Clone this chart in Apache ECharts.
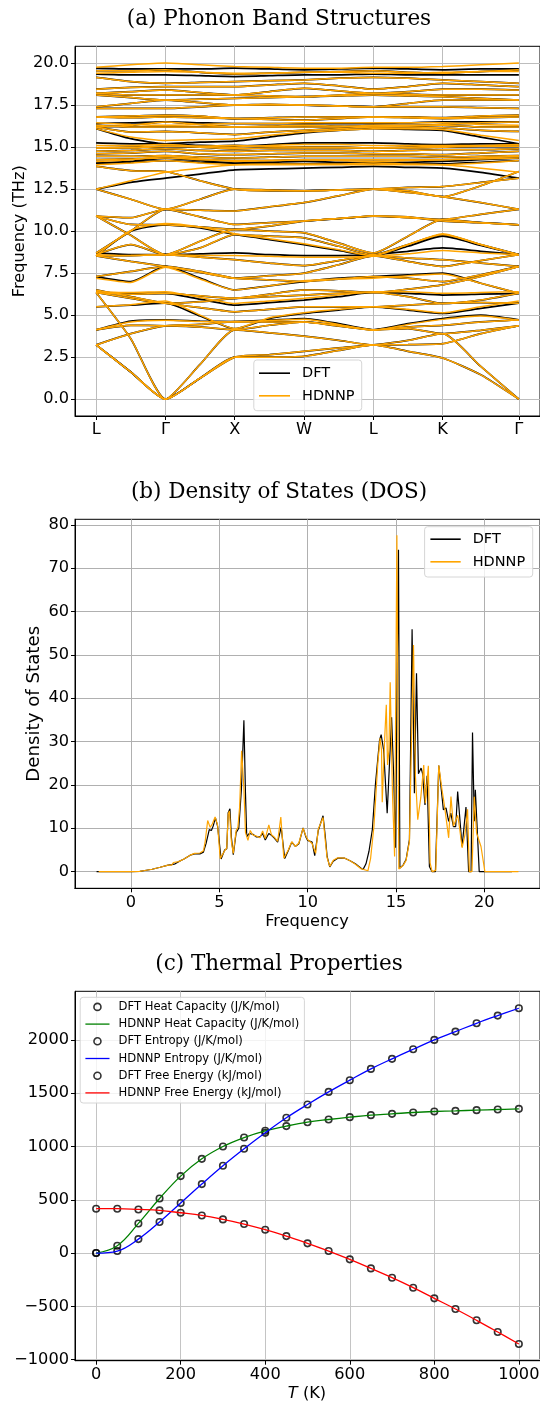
<!DOCTYPE html>
<html><head><meta charset="utf-8">
<script src="https://cdn.jsdelivr.net/npm/echarts@6/dist/echarts.min.js"></script>
<style>html,body{margin:0;padding:0;background:#fff}#c{width:540px;height:1403px}</style>
</head><body><div id="c"></div>
<script>
// ---------- (a) Phonon band structure ----------
// k-path positions: L, mid, Γ, mid, X, mid, W, mid, L, mid, K, mid, Γ
const kPos = [0, 0.5, 1, 1.5, 2, 2.5, 3, 3.5, 4, 4.5, 5, 5.55, 6.1];
const kTickPos = [0, 1, 2, 3, 4, 5, 6.1];
const kTickLabels = ['L', 'Γ', 'X', 'W', 'L', 'K', 'Γ'];
const freqTicks = [0, 2.5, 5, 7.5, 10, 12.5, 15, 17.5, 20];

// DFT bands (THz) along the path
const b1  = [3.23, 1.62, 0, 1.25, 2.5, 2.5, 2.55, 2.9, 3.23, 2.85, 2.45, 1.45, 0];
const b2  = [3.23, 1.62, 0, 1.25, 2.5, 2.65, 2.85, 3.05, 3.23, 3.5, 3.9, 1.95, 0];
const b3  = [6.35, 3.6, 0, 2.07, 4.13, 3.95, 3.75, 3.5, 3.23, 3.25, 3.3, 3.9, 4.37];
const b4  = [3.23, 3.9, 4.37, 4.45, 4.62, 4.6, 4.6, 4.4, 4.13, 4.3, 4.4, 4.6, 4.72];
const b5  = [4.13, 4.65, 4.72, 4.65, 4.62, 4.7, 4.8, 4.5, 4.13, 4.5, 4.8, 5.0, 4.72];
const b6  = [4.13, 4.4, 4.37, 4.3, 4.13, 4.4, 4.6, 4.35, 4.13, 4.2, 3.9, 4.1, 4.37];
const b7  = [5.5, 5.6, 5.71, 4.95, 4.2, 4.8, 5.1, 5.3, 5.5, 5.3, 5.1, 5.4, 5.71];
const b8  = [6.5, 6.1, 5.71, 5.45, 5.2, 5.35, 5.5, 5.5, 5.5, 5.6, 5.7, 5.75, 5.71];
const b9  = [6.35, 6.3, 6.3, 5.95, 5.6, 5.75, 5.9, 6.1, 6.35, 6.3, 6.2, 6.25, 6.3];
const b10 = [6.35, 6.25, 6.3, 6.15, 6.0, 6.25, 6.5, 6.45, 6.35, 6.55, 6.8, 7.3, 7.9];
const b11 = [7.3, 7.0, 7.9, 7.2, 6.5, 6.75, 7.0, 7.2, 7.3, 7.4, 7.5, 6.9, 6.3];
const b12 = [8.53, 8.2, 7.9, 7.55, 7.2, 7.35, 7.5, 8.0, 8.53, 8.2, 7.9, 8.25, 8.6];
const b13 = [8.53, 8.55, 8.6, 8.45, 8.3, 8.1, 7.95, 8.25, 8.53, 8.4, 8.3, 8.1, 7.9];
const b14 = [8.7, 8.6, 8.6, 8.65, 8.7, 8.6, 8.55, 8.55, 8.6, 8.8, 9.0, 8.8, 8.6];
const b15 = [8.53, 10.0, 10.38, 10.2, 9.8, 9.5, 9.2, 8.85, 8.53, 9.1, 9.7, 9.15, 8.6];
const b16 = [10.9, 9.75, 8.6, 9.4, 10.1, 10.0, 9.9, 9.3, 8.7, 9.7, 10.7, 10.5, 10.38];
const b17 = [8.7, 10.0, 11.3, 10.85, 10.4, 10.5, 10.6, 10.75, 10.9, 10.8, 10.7, 11.0, 11.3];
const b18 = [10.9, 10.8, 11.3, 11.25, 11.2, 11.45, 11.7, 12.1, 12.5, 12.3, 12.05, 11.7, 11.3];
const b19 = [12.5, 11.9, 11.3, 11.9, 12.5, 12.45, 12.4, 12.45, 12.5, 12.6, 12.65, 12.9, 13.15];
const b20 = [12.5, 12.9, 13.15, 13.4, 13.65, 13.7, 13.75, 13.8, 13.85, 13.8, 13.75, 13.5, 13.15];
const b21 = [13.85, 13.6, 13.55, 13.0, 12.5, 12.4, 12.4, 12.45, 12.5, 12.4, 12.05, 12.7, 13.55];
const b22 = [8.6, 9.2, 8.6, 9.0, 9.8, 9.7, 9.6, 9.1, 8.6, 9.2, 9.8, 9.2, 8.6];
const b23 = [7.3, 7.6, 7.9, 7.6, 7.2, 7.1, 7.0, 7.15, 7.3, 7.2, 7.0, 7.4, 7.9];
const b24 = [10.9, 10.4, 10.38, 10.25, 10.1, 10.3, 10.6, 10.75, 10.9, 10.85, 10.6, 10.5, 10.38];
const b25 = [6.35, 6.0, 5.71, 5.8, 6.0, 6.1, 6.2, 6.3, 6.35, 6.1, 5.7, 5.9, 6.3];
const u1  = [14.05, 14.1, 14.2, 14.1, 14.05, 14.0, 14.0, 14.05, 14.05, 14.0, 14.0, 14.1, 14.2];
const u24 = [14.05, 14.15, 14.35, 14.2, 14.05, 14.1, 14.15, 14.1, 14.05, 14.1, 14.15, 14.25, 14.35];
const u2  = [14.25, 14.3, 14.35, 14.25, 14.2, 14.2, 14.25, 14.25, 14.25, 14.25, 14.25, 14.3, 14.35];
const u3  = [14.45, 14.45, 14.5, 14.4, 14.35, 14.4, 14.45, 14.45, 14.45, 14.45, 14.4, 14.45, 14.5];
const u4  = [14.6, 14.65, 14.75, 14.6, 14.55, 14.6, 14.65, 14.65, 14.6, 14.6, 14.55, 14.65, 14.75];
const u5  = [14.75, 14.8, 14.9, 14.8, 14.75, 14.8, 14.8, 14.8, 14.75, 14.8, 14.85, 14.85, 14.9];
const u6  = [14.95, 14.95, 15.05, 15.0, 14.9, 14.95, 14.95, 14.95, 14.95, 14.95, 15.0, 15.05, 15.05];
const u25 = [14.95, 15.0, 15.05, 15.05, 15.1, 15.05, 15.0, 15.0, 14.95, 15.0, 15.05, 15.05, 15.05];
const u7  = [15.25, 15.2, 15.2, 15.1, 15.05, 15.15, 15.25, 15.25, 15.25, 15.2, 15.15, 15.2, 15.2];
const u8  = [16.1, 15.5, 15.2, 15.3, 15.35, 15.6, 15.85, 16.0, 16.1, 16.05, 16.0, 15.6, 15.2];
const u9  = [16.2, 15.9, 15.93, 15.85, 15.75, 15.9, 16.0, 16.1, 16.2, 16.2, 16.15, 16.0, 15.93];
const u10 = [16.3, 16.2, 16.2, 16.2, 16.2, 16.2, 16.2, 16.2, 16.3, 16.3, 16.3, 16.2, 16.2];
const u26 = [16.2, 16.3, 16.5, 16.35, 16.2, 16.25, 16.3, 16.25, 16.2, 16.25, 16.35, 16.45, 16.5];
const u11 = [16.4, 16.45, 16.5, 16.45, 16.4, 16.4, 16.4, 16.4, 16.4, 16.45, 16.5, 16.5, 16.5];
const u12 = [16.8, 16.75, 16.8, 16.75, 16.7, 16.65, 16.6, 16.7, 16.8, 16.75, 16.7, 16.75, 16.8];
const u13 = [16.8, 16.85, 16.9, 16.85, 16.7, 16.75, 16.8, 16.8, 16.8, 16.8, 16.75, 16.85, 16.9];
const u14 = [17.3, 17.3, 17.3, 17.4, 17.5, 17.5, 17.5, 17.45, 17.4, 17.4, 17.4, 17.35, 17.3];
const u15 = [17.4, 17.6, 17.8, 17.65, 17.5, 17.55, 17.5, 17.45, 17.4, 17.6, 17.8, 17.8, 17.8];
const u16 = [18.1, 17.95, 17.8, 17.85, 17.9, 17.95, 18.0, 18.05, 18.1, 18.05, 18.0, 17.9, 17.8];
const u23 = [18.2, 18.1, 18.1, 18.1, 18.1, 18.05, 18.0, 18.1, 18.2, 18.15, 18.1, 18.1, 18.1];
const u17 = [18.2, 18.3, 18.4, 18.25, 18.1, 18.3, 18.5, 18.35, 18.2, 18.3, 18.45, 18.45, 18.4];
const u18 = [18.45, 18.55, 18.6, 18.6, 18.6, 18.7, 18.8, 18.65, 18.45, 18.6, 18.8, 18.7, 18.6];
const u19 = [19.15, 18.9, 18.8, 18.85, 18.9, 18.95, 19.0, 19.1, 19.15, 19.1, 19.0, 18.9, 18.8];
const u20 = [19.35, 19.3, 19.3, 19.25, 19.2, 19.25, 19.3, 19.3, 19.35, 19.3, 19.3, 19.3, 19.3];
const u21 = [19.55, 19.55, 19.6, 19.45, 19.35, 19.4, 19.45, 19.5, 19.55, 19.45, 19.4, 19.5, 19.6];
const u22 = [19.7, 19.65, 19.65, 19.65, 19.7, 19.65, 19.6, 19.65, 19.7, 19.65, 19.6, 19.65, 19.65];

// HDNNP bands that differ visibly from DFT (others coincide)
const hb5  = [4.13, 4.6, 4.7, 4.62, 4.6, 4.68, 4.75, 4.45, 4.1, 4.45, 4.75, 4.95, 4.7];
const hb7  = [5.5, 5.62, 5.85, 5.0, 4.2, 4.85, 5.15, 5.35, 5.5, 5.35, 5.15, 5.5, 5.85];
const hb9  = [6.4, 6.35, 6.4, 6.05, 5.7, 5.85, 6.0, 6.2, 6.4, 6.4, 6.3, 6.35, 6.4];
const hb11 = [7.2, 6.95, 7.85, 7.15, 6.5, 6.75, 7.05, 7.15, 7.2, 7.35, 7.45, 6.9, 6.3];
const hb14 = [8.6, 8.55, 8.6, 8.55, 8.55, 8.5, 8.45, 8.45, 8.5, 8.65, 8.85, 8.7, 8.6];
const hb15 = [8.53, 10.05, 10.45, 10.25, 9.85, 9.55, 9.25, 8.9, 8.53, 9.2, 9.85, 9.2, 8.6];
const hb20 = [12.5, 13.0, 13.5, 13.75, 13.95, 14.0, 14.0, 14.0, 14.05, 14.0, 13.95, 13.75, 13.5];
const hu1  = [13.95, 14.05, 14.2, 14.05, 13.95, 13.95, 13.95, 13.95, 13.95, 13.95, 13.95, 14.05, 14.2];
const hu24 = [14.15, 14.25, 14.45, 14.3, 14.15, 14.2, 14.25, 14.2, 14.15, 14.2, 14.25, 14.35, 14.45];
const hu7  = [15.1, 15.1, 15.15, 15.05, 15.0, 15.1, 15.15, 15.15, 15.1, 15.1, 15.1, 15.1, 15.15];
const hu8  = [16.1, 15.6, 15.4, 15.45, 15.5, 15.7, 15.9, 16.0, 16.1, 16.1, 16.05, 15.7, 15.4];
const hu11 = [16.45, 16.35, 16.3, 16.35, 16.4, 16.4, 16.45, 16.45, 16.45, 16.45, 16.45, 16.35, 16.3];
const hu20 = [19.4, 19.45, 19.5, 19.45, 19.4, 19.4, 19.45, 19.45, 19.4, 19.4, 19.45, 19.5, 19.5];
const hu22 = [19.75, 19.9, 20.0, 19.9, 19.8, 19.75, 19.7, 19.7, 19.75, 19.75, 19.8, 19.9, 20.0];

const dftBands = [b1,b2,b3,b4,b5,b6,b7,b8,b9,b10,b11,b12,b13,b14,b15,b16,b17,b18,b19,b20,b21,b22,b23,b24,b25,
  u1,u24,u2,u3,u4,u5,u6,u25,u7,u8,u9,u10,u26,u11,u12,u13,u14,u15,u16,u23,u17,u18,u19,u20,u21,u22];
const hdBands = [b1,b2,b3,b4,hb5,b6,hb7,b8,hb9,b10,hb11,b12,b13,hb14,hb15,b16,b17,b18,b19,hb20,b21,b22,b23,b24,b25,
  hu1,hu24,u2,u3,u4,u5,u6,u25,hu7,hu8,u9,u10,u26,hu11,u12,u13,u14,u15,u16,u23,u17,u18,u19,hu20,u21,hu22];

// ---------- (b) Density of states ----------
const dosFreqDft = [-1.95,-1,0,0.5,0.7,1.2,1.65,2.1,2.3,2.4,2.5,2.7,3.0,3.35,3.6,3.9,4.1,4.25,4.43,4.55,4.65,4.78,4.9,5.1,5.3,5.42,5.5,5.6,5.68,5.79,5.95,6.1,6.25,6.39,6.48,6.55,6.7,6.9,7.1,7.3,7.45,7.6,7.8,7.95,8.1,8.3,8.5,8.7,8.9,9.1,9.3,9.5,9.74,9.9,10.0,10.25,10.4,10.6,10.87,11.0,11.1,11.25,11.45,11.7,12.1,12.4,12.7,13.13,13.3,13.47,13.66,13.84,14.07,14.16,14.3,14.5,14.62,14.75,14.87,14.97,15.14,15.22,15.4,15.57,15.76,15.91,16.04,16.16,16.27,16.42,16.5,16.64,16.76,16.89,17.04,17.23,17.42,17.68,17.83,17.98,18.1,18.25,18.38,18.49,18.74,18.96,19.11,19.25,19.33,19.43,19.49,19.71,20,21,21.56];
const dosDft = [0,0,0,0.05,0.2,0.55,1.0,1.5,1.6,2.0,1.8,2.3,2.9,3.8,4.1,4.1,4.5,6.5,9.7,9.5,10.5,12.4,10.5,2.9,5.0,5.3,13.6,14.5,8,3.9,9.0,10.0,19,34.9,18,8.1,8.8,8.6,8.0,8.0,8.8,7.3,8.8,8.4,7.8,6.8,10.2,3.0,4.8,6.8,5.8,6.4,10.1,8.0,7.2,6.8,3.7,9.5,12.9,8,3.5,1.1,2.4,3.1,3.1,2.5,1.8,0.46,1.8,4.7,9.7,20.4,30.4,31.6,28,13.5,24,35.6,22,5.5,74.3,0.8,1.5,2.8,7.4,55.9,18.1,45.8,22.6,23.9,22.7,15.4,22.1,1.2,0,0,24.5,14.3,14.7,11.6,13.5,10.4,10.4,18.5,5.8,14.9,0,0,32.1,11.6,18.9,0,0,0,0];
const dosFreqHd = [-1.83,-1,0,0.5,0.7,1.2,1.65,2.1,2.3,2.4,2.5,2.7,3.0,3.35,3.6,3.9,4.1,4.2,4.34,4.48,4.6,4.76,4.9,5.05,5.1,5.3,5.42,5.5,5.57,5.68,5.79,5.95,6.05,6.15,6.26,6.38,6.48,6.62,6.75,6.88,7.1,7.3,7.45,7.6,7.8,7.95,8.1,8.3,8.48,8.65,8.9,9.1,9.3,9.5,9.74,9.9,10.0,10.25,10.45,10.6,10.87,11.0,11.1,11.25,11.45,11.7,12.1,12.4,12.7,13.0,13.41,13.56,13.75,13.97,14.1,14.18,14.22,14.35,14.45,14.52,14.6,14.67,14.8,14.92,15.05,15.16,15.4,15.57,15.76,15.99,16.1,16.23,16.4,16.57,16.66,16.83,16.93,17.04,17.25,17.42,17.6,17.75,17.98,18.11,18.25,18.36,18.49,18.6,18.74,18.9,19.05,19.15,19.3,19.43,19.56,19.81,20.03,21,21.93];
const dosHd = [0,0,0,0.05,0.2,0.55,1.0,1.5,1.5,2.1,1.7,2.3,2.9,3.8,4.2,4.3,4.8,7,11.8,10.2,11.0,12.6,10.8,3.0,2.7,4.8,5.5,13.2,14.0,7,4.2,9.5,10.2,15,27.9,20,9,7.2,9.5,8.5,8.2,7.8,9.4,7.6,10.8,8.5,8.0,7.0,12.6,3.1,5.0,6.9,5.8,6.6,10.0,8.2,7.4,6.5,4.2,9.8,12.5,7,3.2,1.2,2.6,3.2,3.1,2.5,1.7,0.7,0.2,3,10.4,25,30.8,28,16,30,38.5,24.6,28,43.7,18,3.5,77.6,0.6,1.4,2.6,7.0,52.3,22,12,17,24.6,15.8,24.4,2,0,0.3,24.5,19,15,7.8,17.3,10.5,10.2,13.0,10,5.5,8.5,14.4,0,0,17.3,8.9,5.8,0,0,0];
const dosXTicks = [0, 5, 10, 15, 20];
const dosYTicks = [0, 10, 20, 30, 40, 50, 60, 70, 80];

// ---------- (c) Thermal properties ----------
const tempK = [0,50,100,150,200,250,300,350,400,450,500,550,600,650,700,750,800,850,900,950,1000];
const dftCv = [0,69,278,512,722,884,1000,1084,1147,1191,1228,1253,1275,1294,1306,1319,1328,1334,1341,1347,1353];
const hdCv  = [0,69,278,512,722,884,1000,1084,1147,1191,1228,1253,1275,1294,1306,1319,1328,1334,1341,1347,1353];
const dftS  = [0,19,131,291,469,647,819,978,1128,1269,1394,1512,1622,1728,1822,1912,2000,2078,2156,2228,2297];
const hdS   = [0,19,131,291,469,647,819,978,1128,1269,1394,1512,1622,1728,1822,1912,2000,2078,2156,2228,2297];
const dftF  = [416,416,409,400,378,353,316,272,219,159,91,19,-59,-144,-231,-325,-425,-525,-631,-741,-853];
const hdF   = [416,416,409,400,378,353,316,272,219,159,91,19,-59,-144,-231,-325,-425,-525,-631,-741,-853];
const tXTicks = [0, 200, 400, 600, 800, 1000];
const tYTicks = [-1000, -500, 0, 500, 1000, 1500, 2000];

// ---------- build ----------
const FONT = 'DejaVu Sans';
const ORANGE = '#FFA500';

function bandSeries(bands, name, color, width, z) {
  return bands.map(b => ({
    type: 'line', name: name, xAxisIndex: 0, yAxisIndex: 0,
    data: kPos.map((k, i) => [k, b[i]]),
    symbol: 'none', showSymbol: false, smooth: 0.2,
    lineStyle: { color: color, width: width }, itemStyle: { color: color },
    z: z, silent: true, animation: false
  }));
}
const minus = v => String(v).replace('-', '\u2212');

function mkAxis(grid, min, max, ticks, fmt, gridColor) {
  return {
    gridIndex: grid, type: 'value', min: min, max: max,
    axisLine: { show: true, onZero: false, lineStyle: { color: '#000', width: 1 } },
    axisTick: { show: true, customValues: ticks, length: 4, lineStyle: { color: '#000', width: 1 } },
    axisLabel: { customValues: ticks, formatter: fmt, color: '#000', fontFamily: FONT, fontSize: 16.2, margin: 6 },
    splitLine: { show: true, lineStyle: { color: gridColor, width: 1 } }
  };
}

const series = [];
bandSeries(dftBands, 'DFT', '#000', 1.75, 2).forEach(s => series.push(s));
bandSeries(hdBands, 'HDNNP', ORANGE, 1.5, 3).forEach(s => series.push(s));

series.push({ type: 'line', name: 'DFT', xAxisIndex: 1, yAxisIndex: 1,
  data: dosFreqDft.map((f, i) => [f, dosDft[i]]), symbol: 'none', showSymbol: false,
  lineStyle: { color: '#000', width: 1.2 }, itemStyle: { color: '#000' }, z: 2, silent: true });
series.push({ type: 'line', name: 'HDNNP', xAxisIndex: 1, yAxisIndex: 1,
  data: dosFreqHd.map((f, i) => [f, dosHd[i]]), symbol: 'none', showSymbol: false,
  lineStyle: { color: ORANGE, width: 1.2 }, itemStyle: { color: ORANGE }, z: 3, silent: true });

const ringStyle = { color: 'rgba(255,255,255,0)', borderColor: '#000', borderWidth: 1.6 };
function thermScatter(name, vals) {
  return { type: 'scatter', name: name, xAxisIndex: 2, yAxisIndex: 2,
    data: tempK.map((t, i) => [t, vals[i]]), symbol: 'circle', symbolSize: 6.5,
    itemStyle: ringStyle, z: 2, silent: true };
}
function thermLine(name, vals, color) {
  return { type: 'line', name: name, xAxisIndex: 2, yAxisIndex: 2,
    data: tempK.map((t, i) => [t, vals[i]]), symbol: 'none', showSymbol: false, smooth: 0.4,
    lineStyle: { color: color, width: 1.3 }, itemStyle: { color: color }, z: 3, silent: true };
}
const thermNames = ['DFT Heat Capacity (J/K/mol)', 'HDNNP Heat Capacity (J/K/mol)', 'DFT Entropy (J/K/mol)',
  'HDNNP Entropy (J/K/mol)', 'DFT Free Energy (kJ/mol)', 'HDNNP Free Energy (kJ/mol)'];
series.push(thermScatter(thermNames[0], dftCv));
series.push(thermLine(thermNames[1], hdCv, '#008000'));
series.push(thermScatter(thermNames[2], dftS));
series.push(thermLine(thermNames[3], hdS, '#0000FF'));
series.push(thermScatter(thermNames[4], dftF));
series.push(thermLine(thermNames[5], hdF, '#FF0000'));

const LINE30 = 'path://M0,0H30V1.6H0Z';
const LINE24 = 'path://M0,0H24V1.3H0Z';
const legendBox = { backgroundColor: 'rgba(255,255,255,0.8)', borderColor: '#d6d6d6', borderWidth: 1, borderRadius: 3, selectedMode: false, orient: 'vertical' };
const ringIcon = name => ({ name: name, icon: 'circle', itemStyle: { color: 'rgba(255,255,255,0)', borderColor: '#000', borderWidth: 1.6 } });

const option = {
  animation: false,
  backgroundColor: '#fff',
  grid: [
    { left: 75, top: 46.3, width: 465, height: 369.7, show: true, borderColor: '#000', borderWidth: 1, backgroundColor: 'transparent', containLabel: false, outerBoundsMode: 'none' },
    { left: 75, top: 519.3, width: 465, height: 369, show: true, borderColor: '#333', borderWidth: 1.2, backgroundColor: 'transparent', containLabel: false, outerBoundsMode: 'none' },
    { left: 75, top: 991.3, width: 465, height: 369.4, show: true, borderColor: '#000', borderWidth: 1, backgroundColor: 'transparent', containLabel: false, outerBoundsMode: 'none' }
  ],
  xAxis: [
    mkAxis(0, -0.305, 6.405, kTickPos, v => kTickLabels[kTickPos.indexOf(v)] || '', '#bdbdbd'),
    mkAxis(1, -3.17, 23.15, dosXTicks, v => String(v), '#b0b0b0'),
    mkAxis(2, -50, 1050, tXTicks, v => String(v), '#c4c4c4')
  ],
  yAxis: [
    mkAxis(0, -1, 21, freqTicks, v => v.toFixed(1), '#bdbdbd'),
    mkAxis(1, -3.85, 81.3, dosYTicks, v => String(v), '#b0b0b0'),
    mkAxis(2, -1010, 2456, tYTicks, v => minus(v), '#c4c4c4')
  ],
  legend: [
    Object.assign({}, legendBox, { left: 253.8, top: 360,
      data: [{ name: 'DFT', icon: LINE30 }, { name: 'HDNNP', icon: LINE30 }],
      itemWidth: 31, itemHeight: 14, itemGap: 7.6,
      padding: [5.7, 7.2, 7.4, 5.2], textStyle: { fontFamily: FONT, fontSize: 14.5, color: '#000', lineHeight: 14, padding: [0, 0, 0, 7] } }),
    Object.assign({}, legendBox, { left: 424.6, top: 526.7,
      data: [{ name: 'DFT', icon: LINE30 }, { name: 'HDNNP', icon: LINE30 }],
      itemWidth: 30.3, itemHeight: 14, itemGap: 7.6,
      padding: [5, 7.5, 7.7, 5.8], textStyle: { fontFamily: FONT, fontSize: 14.5, color: '#000', lineHeight: 14, padding: [0, 0, 0, 7] } }),
    Object.assign({}, legendBox, { left: 80.2, top: 997.3,
      data: [
        ringIcon(thermNames[0]), { name: thermNames[1], icon: LINE24 },
        ringIcon(thermNames[2]), { name: thermNames[3], icon: LINE24 },
        ringIcon(thermNames[4]), { name: thermNames[5], icon: LINE24 }
      ],
      itemWidth: 24.1, itemHeight: 7, itemGap: 4.2,
      padding: [3.1, 5.2, 3.6, 5.2], textStyle: { fontFamily: FONT, fontSize: 11.6, color: '#000', lineHeight: 13, padding: [0, 0, 0, 4] } })
  ],
  graphic: [
    { type: 'text', x: 279, y: 19.3, style: { text: '(a) Phonon Band Structures', font: '21.5px "DejaVu Serif"', fill: '#000', textAlign: 'center', textVerticalAlign: 'middle' } },
    { type: 'text', x: 279, y: 492.3, style: { text: '(b) Density of States (DOS)', font: '21.5px "DejaVu Serif"', fill: '#000', textAlign: 'center', textVerticalAlign: 'middle' } },
    { type: 'text', x: 279, y: 964.5, style: { text: '(c) Thermal Properties', font: '21.5px "DejaVu Serif"', fill: '#000', textAlign: 'center', textVerticalAlign: 'middle' } },
    { type: 'text', x: 19.6, y: 231.2, rotation: Math.PI / 2, style: { text: 'Frequency (THz)', font: '16.2px "DejaVu Sans"', fill: '#000', textAlign: 'center', textVerticalAlign: 'middle' } },
    { type: 'text', x: 34.4, y: 703.8, rotation: Math.PI / 2, style: { text: 'Density of States', font: '18.2px "DejaVu Sans"', fill: '#000', textAlign: 'center', textVerticalAlign: 'middle' } },
    { type: 'text', x: 307, y: 921.7, style: { text: 'Frequency', font: '16.2px "DejaVu Sans"', fill: '#000', textAlign: 'center', textVerticalAlign: 'middle' } },
    { type: 'text', x: 307, y: 1393.3, style: { text: '{i|T} (K)', rich: { i: { fontStyle: 'italic', fontFamily: FONT, fontSize: 16.2 } }, fontFamily: FONT, fontSize: 16.2, fill: '#000', textAlign: 'center', textVerticalAlign: 'middle' } }
  ],
  series: series
};

const chart = echarts.init(document.getElementById('c'), null, { renderer: 'canvas' });
chart.setOption(option);
</script></body></html>
